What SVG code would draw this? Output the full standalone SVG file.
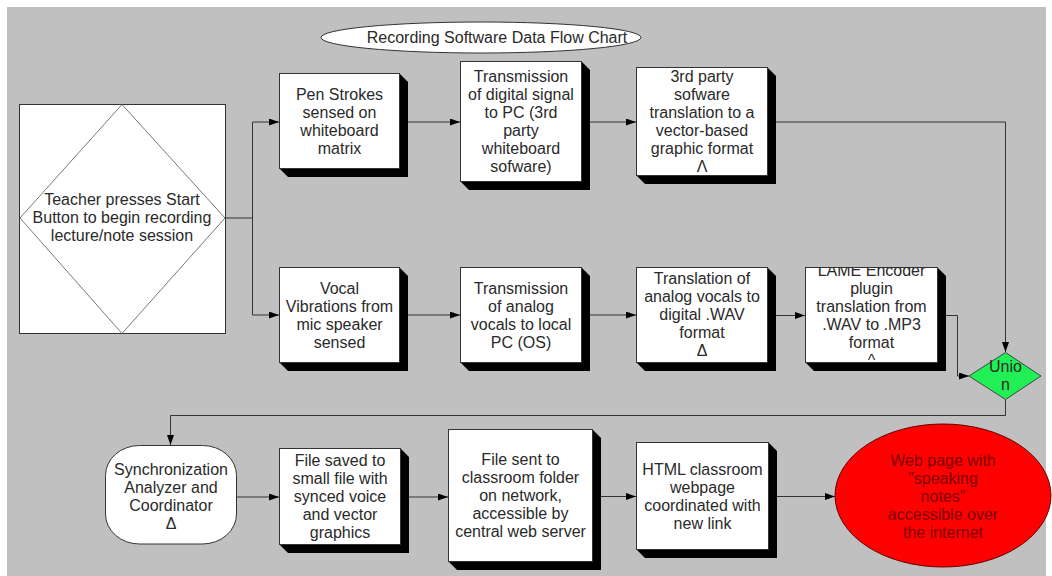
<svg xmlns="http://www.w3.org/2000/svg" width="1052" height="576" viewBox="0 0 1052 576">
<style>
text{font-family:"Liberation Sans",Arial,sans-serif;font-size:16px;fill:#2a2a2a;text-anchor:middle}
.box{fill:#fff;stroke:#333;stroke-width:1}
.sh{fill:#000}
.c{fill:none;stroke:#333;stroke-width:1}
.ca{fill:none;stroke:#333;stroke-width:1;marker-end:url(#ah)}
</style>
<defs>
<marker id="ah" markerUnits="userSpaceOnUse" markerWidth="10" markerHeight="7" refX="10" refY="3.5" orient="auto">
<path d="M0,0 L10,3.5 L0,7 z" fill="#000"/>
</marker>
<clipPath id="clipLame"><rect x="805.5" y="267.5" width="132" height="95"/></clipPath>
</defs>
<rect x="7" y="7" width="1039" height="569" fill="#C0C0C0"/>

<g id="title">
<ellipse cx="481" cy="37.5" rx="160" ry="15.5" fill="#fff" stroke="#333"/>
<text x="497" y="43">Recording Software Data Flow Chart</text>
</g>

<g id="connectors">
<path class="c" d="M225,218 H252.5 M252.5,122 V315"/>
<path class="ca" d="M252.5,122 H279"/>
<path class="ca" d="M252.5,315 H279"/>
<path class="ca" d="M399.5,122 H460"/>
<path class="ca" d="M581.5,122 H636"/>
<path class="ca" d="M767.5,122 H1005.5 V352"/>
<path class="ca" d="M399.5,315 H460"/>
<path class="ca" d="M581.5,315 H636"/>
<path class="ca" d="M767.5,315.5 H805"/>
<path class="ca" d="M937.5,315.5 H957.5 V376 H969"/>
<path class="ca" d="M1005.5,399.5 V415.5 H170.5 V445"/>
<path class="ca" d="M237,497 H279"/>
<path class="ca" d="M400.5,497 H448"/>
<path class="ca" d="M592.5,496.5 H636"/>
<path class="ca" d="M768.5,496.5 H835"/>
</g>

<g id="start">
<rect x="19.5" y="104.5" width="206" height="229" fill="#fff" stroke="#333"/>
<polygon points="122,104.5 225,218 122,333.5 20,218" fill="#fff" stroke="#555" stroke-width="0.8"/>
<text x="122" y="205">Teacher presses Start</text>
<text x="122" y="223">Button to begin recording</text>
<text x="122" y="241">lecture/note session</text>
</g>

<g id="pen">
<polygon class="sh" points="399.5,73.5 408,82 408,177 288,177 279.5,168.5"/>
<rect class="box" x="279.5" y="73.5" width="120" height="95"/>
<text x="339.5" y="100">Pen Strokes</text>
<text x="339.5" y="118">sensed on</text>
<text x="339.5" y="136">whiteboard</text>
<text x="339.5" y="154">matrix</text>
</g>

<g id="transDigital">
<polygon class="sh" points="581.5,61.5 590,70 590,190 469,190 460.5,181.5"/>
<rect class="box" x="460.5" y="61.5" width="121" height="120"/>
<text x="521" y="82">Transmission</text>
<text x="521" y="100">of digital signal</text>
<text x="521" y="118">to PC (3rd</text>
<text x="521" y="136">party</text>
<text x="521" y="154">whiteboard</text>
<text x="521" y="172">sofware)</text>
</g>

<g id="thirdParty">
<polygon class="sh" points="767.5,67.5 776,76 776,184 645,184 636.5,175.5"/>
<rect class="box" x="636.5" y="67.5" width="131" height="108"/>
<text x="702" y="82">3rd party</text>
<text x="702" y="100">sofware</text>
<text x="702" y="118">translation to a</text>
<text x="702" y="136">vector-based</text>
<text x="702" y="154">graphic format</text>
<text x="702" y="172">Λ</text>
</g>

<g id="vocal">
<polygon class="sh" points="399.5,267.5 408,276 408,371 288,371 279.5,362.5"/>
<rect class="box" x="279.5" y="267.5" width="120" height="95"/>
<text x="339.5" y="294">Vocal</text>
<text x="339.5" y="312">Vibrations from</text>
<text x="339.5" y="330">mic speaker</text>
<text x="339.5" y="348">sensed</text>
</g>

<g id="transAnalog">
<polygon class="sh" points="581.5,267.5 590,276 590,371 469,371 460.5,362.5"/>
<rect class="box" x="460.5" y="267.5" width="121" height="95"/>
<text x="521" y="294">Transmission</text>
<text x="521" y="312">of analog</text>
<text x="521" y="330">vocals to local</text>
<text x="521" y="348">PC (OS)</text>
</g>

<g id="translation">
<polygon class="sh" points="767.5,267.5 776,276 776,371 645,371 636.5,362.5"/>
<rect class="box" x="636.5" y="267.5" width="131" height="95"/>
<text x="702" y="284">Translation of</text>
<text x="702" y="302">analog vocals to</text>
<text x="702" y="320">digital .WAV</text>
<text x="702" y="338">format</text>
<text x="702" y="356">Δ</text>
</g>

<g id="lame">
<polygon class="sh" points="937.5,267.5 946,276 946,371 814,371 805.5,362.5"/>
<rect class="box" x="805.5" y="267.5" width="132" height="95"/>
<g clip-path="url(#clipLame)">
<text x="871.5" y="276">LAME Encoder</text>
<text x="871.5" y="294">plugin</text>
<text x="871.5" y="312">translation from</text>
<text x="871.5" y="330">.WAV to .MP3</text>
<text x="871.5" y="348">format</text>
<text x="871.5" y="366">^</text>
</g>
</g>

<g id="union">
<polygon points="969,376 1005.5,352.5 1041,376 1005.5,399.5" fill="#22EE55" stroke="#444"/>
<text x="1005.5" y="372">Unio</text>
<text x="1005.5" y="390">n</text>
</g>

<g id="sync">
<rect x="105.5" y="445.5" width="131" height="98.5" rx="34" ry="30" fill="#fff" stroke="#333"/>
<text x="171" y="475">Synchronization</text>
<text x="171" y="493">Analyzer and</text>
<text x="171" y="511">Coordinator</text>
<text x="171" y="529">Δ</text>
</g>

<g id="fileSaved">
<polygon class="sh" points="400.5,448.5 409,457 409,553 288,553 279.5,544.5"/>
<rect class="box" x="279.5" y="448.5" width="121" height="96"/>
<text x="340" y="466">File saved to</text>
<text x="340" y="484">small file with</text>
<text x="340" y="502">synced voice</text>
<text x="340" y="520">and vector</text>
<text x="340" y="538">graphics</text>
</g>

<g id="fileSent">
<polygon class="sh" points="592.5,429.5 601,438 601,570 457,570 448.5,561.5"/>
<rect class="box" x="448.5" y="429.5" width="144" height="132"/>
<text x="520.5" y="465">File sent to</text>
<text x="520.5" y="483">classroom folder</text>
<text x="520.5" y="501">on network,</text>
<text x="520.5" y="519">accessible by</text>
<text x="520.5" y="537">central web server</text>
</g>

<g id="html">
<polygon class="sh" points="768.5,442.5 777,451 777,558 645,558 636.5,549.5"/>
<rect class="box" x="636.5" y="442.5" width="132" height="107"/>
<text x="702.5" y="475">HTML classroom</text>
<text x="702.5" y="493">webpage</text>
<text x="702.5" y="511">coordinated with</text>
<text x="702.5" y="529">new link</text>
</g>

<g id="webpage">
<ellipse cx="943" cy="495.5" rx="108" ry="71.5" fill="#FF0000" stroke="#600" stroke-width="1"/>
<text x="943" y="466" style="fill:#7a0000">Web page with</text>
<text x="943" y="484" style="fill:#7a0000">"speaking</text>
<text x="943" y="502" style="fill:#7a0000">notes"</text>
<text x="943" y="520" style="fill:#7a0000">accessible over</text>
<text x="943" y="538" style="fill:#7a0000">the internet</text>
</g>
</svg>
